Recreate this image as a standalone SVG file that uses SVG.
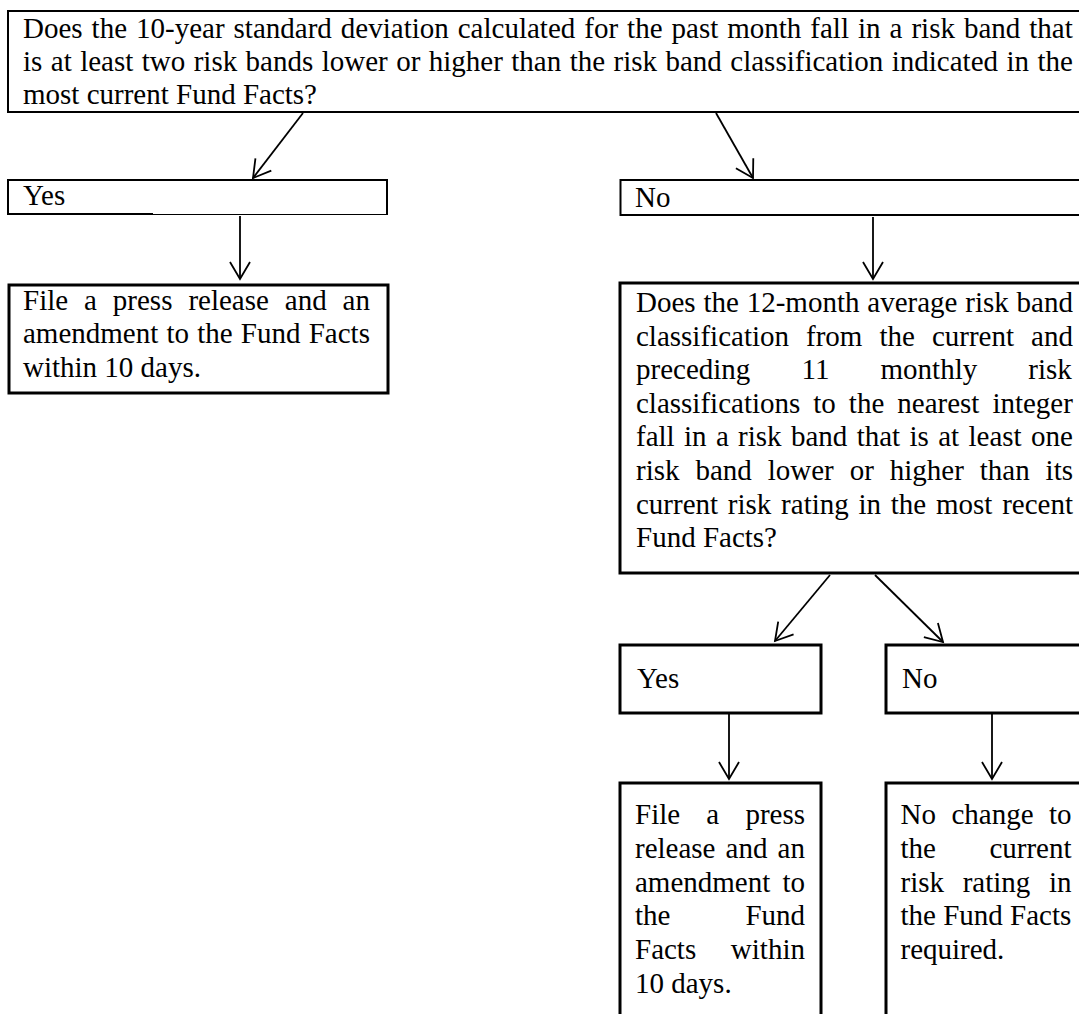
<svg xmlns="http://www.w3.org/2000/svg" width="1079" height="1014" viewBox="0 0 1079 1014">
<style>
text{font-family:"Liberation Serif","Times New Roman",serif;font-size:29px;fill:#000}
.box{fill:#fff;stroke:#000}
.thin{stroke-width:2}
.thick{stroke-width:3}
.conn line{stroke:#000;stroke-width:1.8;fill:none}
</style>
<defs>
<marker id="arr" markerUnits="userSpaceOnUse" markerWidth="40" markerHeight="40" refX="0" refY="0" viewBox="-20 -20 40 40" orient="auto" overflow="visible">
<path d="M-17,-10 L0,0 L-17,10" fill="none" stroke="#000" stroke-width="1.8"/>
</marker>
</defs>
<rect width="1079" height="1014" fill="#fff"/>

<g id="q1">
<rect class="box thin" x="8" y="11" width="1100" height="101"/>
<text x="23" y="38" word-spacing="1.75">Does the 10-year standard deviation calculated for the past month fall in a risk band that</text>
<text x="23" y="71" word-spacing="1.19">is at least two risk bands lower or higher than the risk band classification indicated in the</text>
<text x="23" y="104">most current Fund Facts?</text>
</g>

<g id="yes1">
<path d="M8,214 V180 H387 V215" fill="#fff" stroke="#000" stroke-width="2"/>
<line x1="7" y1="214" x2="153" y2="214" stroke="#000" stroke-width="2"/>
<line x1="153" y1="214.5" x2="388" y2="214.5" stroke="#000" stroke-width="1.2"/>
<text x="23" y="205">Yes</text>
</g>

<g id="no1">
<rect class="box thin" x="620.5" y="180" width="500" height="35"/>
<text x="635" y="207">No</text>
</g>

<g id="action1">
<rect class="box thick" x="9" y="285" width="379" height="108"/>
<text x="23" y="309.5" word-spacing="8.68">File a press release and an</text>
<text x="23" y="343" word-spacing="0.95">amendment to the Fund Facts</text>
<text x="23" y="376.5">within 10 days.</text>
</g>

<g id="q2">
<rect class="box thick" x="620" y="283" width="500" height="290"/>
<text x="636" y="312" word-spacing="0.58">Does the 12-month average risk band</text>
<text x="636" y="345.6" word-spacing="9.78">classification from the current and</text>
<text x="636" y="379.2" word-spacing="43.9">preceding 11 monthly risk</text>
<text x="636" y="412.8" word-spacing="5.75">classifications to the nearest integer</text>
<text x="636" y="446.4" word-spacing="2.1">fall in a risk band that is at least one</text>
<text x="636" y="480" word-spacing="8.67">risk band lower or higher than its</text>
<text x="636" y="513.6" word-spacing="2.5">current risk rating in the most recent</text>
<text x="636" y="547.2">Fund Facts?</text>
</g>

<g id="yes2">
<rect class="box thick" x="620" y="645" width="201" height="68"/>
<text x="637" y="688">Yes</text>
</g>

<g id="no2">
<rect class="box thick" x="886" y="645" width="300" height="68"/>
<text x="902" y="688">No</text>
</g>

<g id="action2">
<rect class="box thick" x="620" y="783" width="201" height="300"/>
<text x="635" y="824" word-spacing="18.95">File a press</text>
<text x="635" y="857.8" word-spacing="2.85">release and an</text>
<text x="635" y="891.6" word-spacing="4.9">amendment to</text>
<text x="635" y="925.4" word-spacing="67.7">the Fund</text>
<text x="635" y="959.2" word-spacing="27.4">Facts within</text>
<text x="635" y="993">10 days.</text>
</g>

<g id="nochange">
<rect class="box thick" x="886" y="783" width="300" height="300"/>
<text x="900.5" y="824" word-spacing="8.2">No change to</text>
<text x="900.5" y="857.8" word-spacing="46.2">the current</text>
<text x="900.5" y="891.6" word-spacing="11.4">risk rating in</text>
<text x="900.5" y="925.4">the Fund Facts</text>
<text x="900.5" y="959.2">required.</text>
</g>

<g id="connectors" class="conn">
<line x1="303" y1="113" x2="253" y2="178" marker-end="url(#arr)"/>
<line x1="716" y1="113" x2="753" y2="178" marker-end="url(#arr)"/>
<line x1="240" y1="216" x2="240" y2="279" marker-end="url(#arr)"/>
<line x1="873" y1="217" x2="873" y2="279" marker-end="url(#arr)"/>
<line x1="830" y1="575" x2="775" y2="641" marker-end="url(#arr)"/>
<line x1="875" y1="575" x2="943" y2="642" marker-end="url(#arr)"/>
<line x1="729" y1="714" x2="729" y2="779" marker-end="url(#arr)"/>
<line x1="992" y1="714" x2="992" y2="779" marker-end="url(#arr)"/>
</g>
</svg>
